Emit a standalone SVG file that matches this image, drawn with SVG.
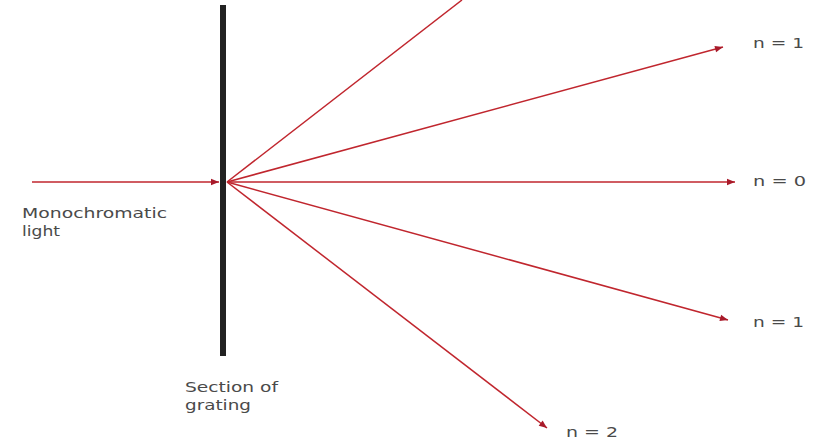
<svg xmlns="http://www.w3.org/2000/svg" width="823" height="440" viewBox="0 0 823 440">
<defs>
<marker id="ah" viewBox="0 0 10 10" refX="10" refY="5" markerWidth="10" markerHeight="8" markerUnits="userSpaceOnUse" orient="auto">
<path d="M0,1 L10,5 L0,9 Z" fill="#a81a2a"/>
</marker>
<style>
.ray{stroke:#c0262e;stroke-width:1.5;fill:none}
.lbl{font-family:"DejaVu Sans","Liberation Sans",Arial,sans-serif;font-size:14px;fill:#4a4a4a}
</style>
</defs>
<rect width="823" height="440" fill="#fff"/>
<g id="grating"><rect x="220" y="5" width="6" height="351" fill="#222"/></g>
<g id="connectors">
<line class="ray" x1="32" y1="182" x2="219" y2="182" marker-end="url(#ah)"/>
<line class="ray" x1="227" y1="182" x2="462" y2="0"/>
<line class="ray" x1="227" y1="182" x2="723" y2="47" marker-end="url(#ah)"/>
<line class="ray" x1="227" y1="182" x2="735" y2="182" marker-end="url(#ah)"/>
<line class="ray" x1="227" y1="182" x2="728" y2="320" marker-end="url(#ah)"/>
<line class="ray" x1="227" y1="182" x2="547" y2="428" marker-end="url(#ah)"/>
</g>
<g id="label-light"><text class="lbl" x="22" y="218" textLength="145" lengthAdjust="spacingAndGlyphs">Monochromatic</text><text class="lbl" x="22" y="236" textLength="38" lengthAdjust="spacingAndGlyphs">light</text></g>
<g id="label-grating"><text class="lbl" x="185" y="392" textLength="93" lengthAdjust="spacingAndGlyphs">Section of</text><text class="lbl" x="185" y="410" textLength="66" lengthAdjust="spacingAndGlyphs">grating</text></g>
<g id="n1-top"><text class="lbl" x="753" y="48" textLength="51" lengthAdjust="spacingAndGlyphs">n = 1</text></g>
<g id="n0"><text class="lbl" x="753" y="186" textLength="53" lengthAdjust="spacingAndGlyphs">n = 0</text></g>
<g id="n1-bottom"><text class="lbl" x="753" y="327" textLength="51" lengthAdjust="spacingAndGlyphs">n = 1</text></g>
<g id="n2"><text class="lbl" x="566" y="437" textLength="52" lengthAdjust="spacingAndGlyphs">n = 2</text></g>
</svg>
